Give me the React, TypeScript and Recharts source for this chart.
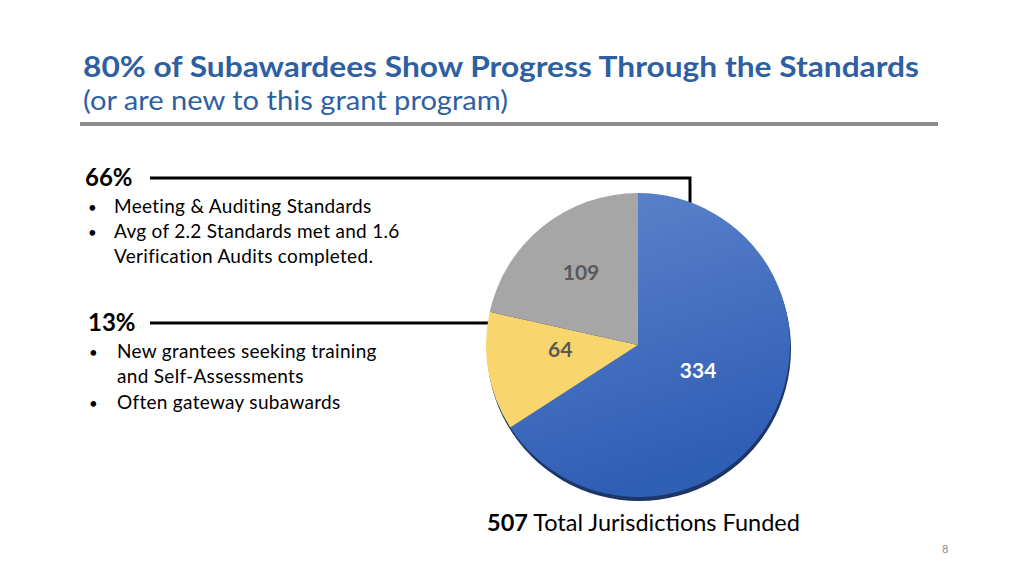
import { Cell, Pie, PieChart } from 'recharts'

const categories = ['Meeting & Auditing Standards', 'New grantees', 'Other']
const counts = [334, 64, 109]
const sliceColors = ['url(#blueGrad)', '#f8d66d', '#a6a6a6']
const labelColors = ['#ffffff', '#595959', '#595959']
const labelRadius = [0.45, 0.52, 0.6]
const labelLift = [8, 10, 2]

const data = categories.map((name, i) => ({ name, value: counts[i] }))
const total = counts.reduce((a, b) => a + b, 0)

const FONT = 'Lato, "Open Sans", sans-serif'
const RAD = Math.PI / 180

type LabelProps = {
  cx: number
  cy: number
  midAngle: number
  outerRadius: number
  value: number
  index: number
}

function SliceLabel({ cx, cy, midAngle, outerRadius, value, index }: LabelProps) {
  const r = outerRadius * labelRadius[index]
  const x = cx + r * Math.cos(-midAngle * RAD)
  const y = cy + r * Math.sin(-midAngle * RAD) - labelLift[index]
  return (
    <text
      x={x}
      y={y}
      fill={labelColors[index]}
      textAnchor="middle"
      dominantBaseline="central"
      fontFamily={FONT}
      fontWeight={700}
      fontSize={21}
    >
      {value}
    </text>
  )
}

export default function App() {
  return (
    <div
      style={{
        position: 'fixed',
        left: 0,
        top: 0,
        width: 1024,
        height: 576,
        background: '#ffffff',
        fontFamily: FONT,
      }}
    >
      <svg width={1024} height={576} style={{ position: 'absolute', left: 0, top: 0 }}>
        <text x={83} y={77} fill="#2e5fa3" fontSize={29} fontWeight={700} textLength={836} lengthAdjust="spacingAndGlyphs">
          80% of Subawardees Show Progress Through the Standards
        </text>
        <text x={83} y={110} fill="#2e5fa3" fontSize={26} textLength={425} lengthAdjust="spacingAndGlyphs">
          (or are new to this grant program)
        </text>
        <rect x={80} y={122} width={858} height={4} fill="#8c8c8c" />

        <text x={85} y={186} fontSize={24} fontWeight={700} fill="#000">66%</text>
        <polyline points="150,178 690,178 690,215" fill="none" stroke="#000" strokeWidth={3} />
        <g fontSize={19} fill="#000" letterSpacing={0.3}>
          <text x={88} y={213} fontSize={15}>•</text>
          <text x={114} y={213}>Meeting &amp; Auditing Standards</text>
          <text x={88} y={238} fontSize={15}>•</text>
          <text x={114} y={238}>Avg of 2.2 Standards met and 1.6</text>
          <text x={114} y={263}>Verification Audits completed.</text>
        </g>

        <text x={88} y={331} fontSize={24} fontWeight={700} fill="#000">13%</text>
        <line x1={150} y1={323} x2={500} y2={323} stroke="#000" strokeWidth={3} />
        <g fontSize={19} fill="#000" letterSpacing={0.3}>
          <text x={89} y={358} fontSize={15}>•</text>
          <text x={117} y={358}>New grantees seeking training</text>
          <text x={117} y={383}>and Self-Assessments</text>
          <text x={89} y={409} fontSize={15}>•</text>
          <text x={117} y={409}>Often gateway subawards</text>
        </g>

        <text x={487} y={531} fontSize={23.5} fill="#000">
          <tspan fontWeight={700}>{total}</tspan> Total Jurisdictions Funded
        </text>
        <text x={942} y={553} fontSize={11} fill="#8c8c8c">8</text>
      </svg>

      <div style={{ position: 'absolute', left: 438, top: 143 }}>
        <PieChart width={400} height={400}>
          <defs>
            <linearGradient id="blueGrad" x1="0" y1="0" x2="0.3" y2="1">
              <stop offset="0%" stopColor="#5f85cc" />
              <stop offset="100%" stopColor="#2f5eb5" />
            </linearGradient>
          </defs>
          <Pie
            data={[{ name: 'shadow', value: total }]}
            dataKey="value"
            cx={196}
            cy={201}
            outerRadius={152}
            stroke="none"
            fill="#1c3668"
            isAnimationActive={false}
          />
          <Pie
            data={data}
            dataKey="value"
            cx={195}
            cy={197}
            outerRadius={152}
            startAngle={90}
            endAngle={-270}
            stroke="none"
            labelLine={false}
            label={SliceLabel}
            isAnimationActive={false}
          >
            {data.map((d, i) => (
              <Cell key={d.name} fill={sliceColors[i]} />
            ))}
          </Pie>
        </PieChart>
      </div>
    </div>
  )
}
